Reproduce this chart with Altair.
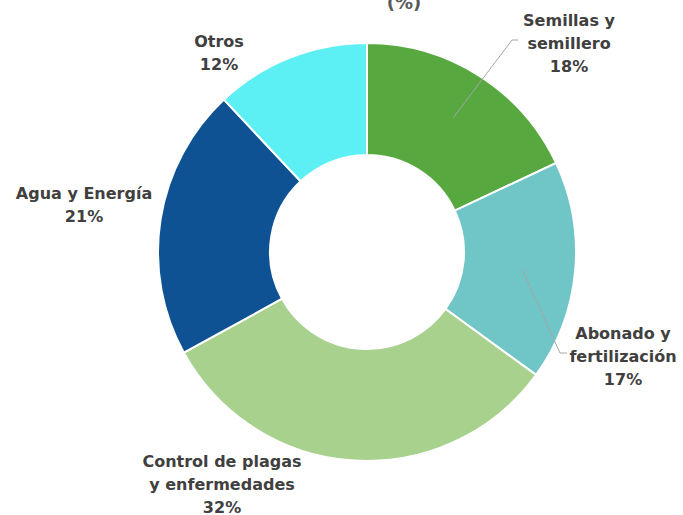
import altair as alt
import pandas as pd

categories = ["Semillas y semillero", "Abonado y fertilización", "Control de plagas y enfermedades", "Agua y Energía", "Otros"]
values = [18, 17, 32, 21, 12]
colors = ["#57A83F", "#70C5C7", "#A9D18E", "#0F5294", "#5CF0F5"]
label_texts = ["Semillas y\nsemillero\n18%", "Abonado y\nfertilización\n17%",
               "Control de plagas\ny enfermedades\n32%", "Agua y Energía\n21%", "Otros\n12%"]

# label layout (pixel placement, as hand-placed in the original)
label_x = [569, 623, 222, 84, 219]
label_y = [26, 339, 467, 199, 47]

df = pd.DataFrame({"cat": categories, "val": values, "order": list(range(len(values)))})
lab = pd.DataFrame({"txt": label_texts, "x": label_x, "y": label_y})

leaders = pd.DataFrame({
    "g": [0, 0, 0, 1, 1, 1],
    "i": [0, 1, 2, 0, 1, 2],
    "x": [518, 512, 453, 522, 560, 567],
    "y": [40, 40, 118, 269, 353, 353],
})

arcs = alt.Chart(df).mark_arc(outerRadius=209, innerRadius=97, stroke="white", strokeWidth=2).encode(
    theta=alt.Theta("val:Q", stack=True),
    order=alt.Order("order:Q"),
    color=alt.Color("cat:N", scale=alt.Scale(domain=categories, range=colors), legend=None),
    x=alt.value(367),
    y=alt.value(252),
)

lines = alt.Chart(leaders).mark_line(color="#A6A6A6", strokeWidth=1).encode(
    x=alt.X("x:Q", scale=None),
    y=alt.Y("y:Q", scale=None),
    detail="g:N",
    order="i:Q",
)

labels = alt.Chart(lab).mark_text(
    font="DejaVu Sans", fontWeight="bold", fontSize=16, color="#404040",
    lineBreak="\n", lineHeight=23, align="center", baseline="alphabetic",
).encode(
    x=alt.X("x:Q", scale=None),
    y=alt.Y("y:Q", scale=None),
    text="txt:N",
)

title = alt.Chart(pd.DataFrame({"t": ["(%)"]})).mark_text(
    font="DejaVu Sans", fontWeight="bold", fontSize=18, color="#595959",
    align="center", baseline="alphabetic",
).encode(text="t:N", x=alt.value(404), y=alt.value(9))

chart = alt.layer(arcs, lines, labels, title).properties(
    width=683, height=515, padding=0, autosize=alt.AutoSizeParams(type="none")
).configure_view(stroke=None)

chart.save("out.html", embed_options={"renderer": "svg", "actions": False})
